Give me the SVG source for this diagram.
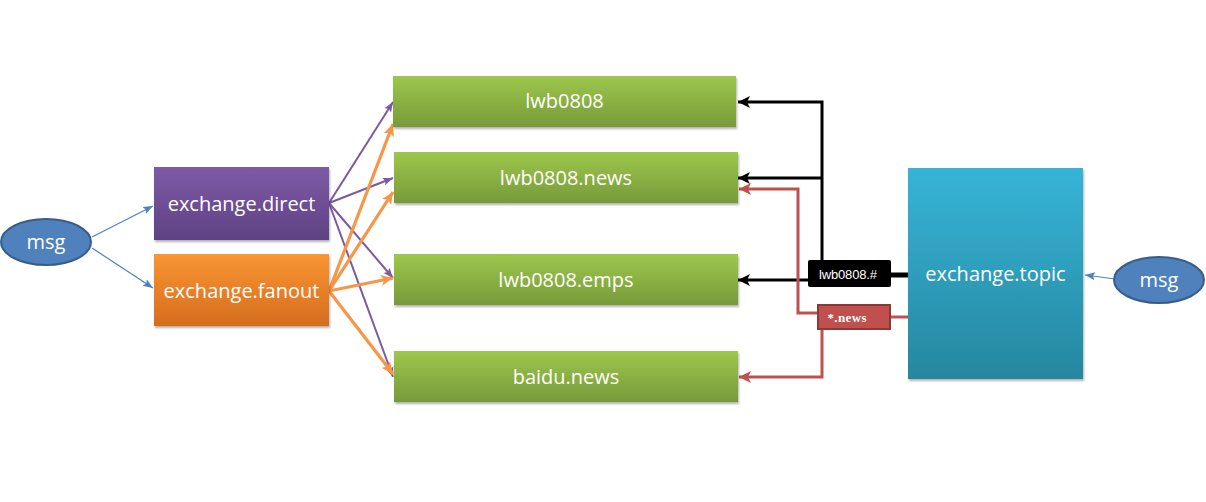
<svg xmlns="http://www.w3.org/2000/svg" width="1206" height="502" viewBox="0 0 1206 502">
<defs>
<linearGradient id="gGreen" x1="0" y1="0" x2="0" y2="1"><stop offset="0" stop-color="#9dc74c"/><stop offset="1" stop-color="#779a3a"/></linearGradient>
<linearGradient id="gPurple" x1="0" y1="0" x2="0" y2="1"><stop offset="0" stop-color="#7f5aa8"/><stop offset="1" stop-color="#5e4282"/></linearGradient>
<linearGradient id="gOrange" x1="0" y1="0" x2="0" y2="1"><stop offset="0" stop-color="#f99533"/><stop offset="1" stop-color="#d56d1e"/></linearGradient>
<linearGradient id="gBlue" x1="0" y1="0" x2="0" y2="1"><stop offset="0" stop-color="#36b4d7"/><stop offset="1" stop-color="#26879f"/></linearGradient>
<filter id="sh" x="-10%" y="-10%" width="120%" height="130%"><feDropShadow dx="1" dy="2" stdDeviation="1.2" flood-color="#000" flood-opacity="0.3"/></filter>
<marker id="aBlack" markerUnits="userSpaceOnUse" markerWidth="14" markerHeight="14" refX="12" refY="7" orient="auto"><path d="M0,1 L12,7 L0,13 L3,7 Z" fill="#000"/></marker>
<marker id="aRed" markerUnits="userSpaceOnUse" markerWidth="14" markerHeight="14" refX="12" refY="7" orient="auto"><path d="M0,1 L12,7 L0,13 L3,7 Z" fill="#c0504d"/></marker>
<marker id="aPurple" markerUnits="userSpaceOnUse" markerWidth="12" markerHeight="10" refX="10" refY="5" orient="auto"><path d="M0,1 L10,5 L0,9 L2,5 Z" fill="#7a5ba3"/></marker>
<marker id="aOrange" markerUnits="userSpaceOnUse" markerWidth="14" markerHeight="12" refX="12" refY="6" orient="auto"><path d="M0,0.5 L12,6 L0,11.5 L3,6 Z" fill="#f79646"/></marker>
<marker id="aBlueM" markerUnits="userSpaceOnUse" markerWidth="12" markerHeight="10" refX="10" refY="5" orient="auto"><path d="M0,1 L10,5 L0,9 L2,5 Z" fill="#4f81bd"/></marker>
</defs>
<style>
.t{font-family:"Open Sans","Liberation Sans",sans-serif;font-size:20px;fill:#fff;text-anchor:middle}
.msg{fill:#4f81bd;stroke:#385d8a;stroke-width:2}
.blk{fill:none;stroke:#000;stroke-width:3}
.red{fill:none;stroke:#c0504d;stroke-width:3}
.pur{fill:none;stroke:#7a5ba3;stroke-width:2}
.ora{fill:none;stroke:#f79646;stroke-width:3.2}
.blu{fill:none;stroke:#4f81bd;stroke-width:1.2}
</style>
<rect width="1206" height="502" fill="#fff"/>

<g id="connectors">
<line class="blu" x1="92" y1="237" x2="153" y2="206" marker-end="url(#aBlueM)"/>
<line class="blu" x1="92" y1="248" x2="153" y2="288" marker-end="url(#aBlueM)"/>
<line class="blu" x1="1115" y1="279" x2="1085" y2="275" marker-end="url(#aBlueM)"/>

<line class="pur" x1="329" y1="203" x2="393" y2="102" marker-end="url(#aPurple)"/>
<line class="pur" x1="329" y1="203" x2="393" y2="178" marker-end="url(#aPurple)"/>
<line class="pur" x1="329" y1="203" x2="393" y2="278" marker-end="url(#aPurple)"/>
<line class="pur" x1="329" y1="203" x2="393" y2="377" marker-end="url(#aPurple)"/>

<line class="ora" x1="329" y1="291" x2="393" y2="124" marker-end="url(#aOrange)"/>
<line class="ora" x1="329" y1="291" x2="393" y2="192" marker-end="url(#aOrange)"/>
<line class="ora" x1="329" y1="291" x2="393" y2="278" marker-end="url(#aOrange)"/>
<line class="ora" x1="329" y1="291" x2="393" y2="374" marker-end="url(#aOrange)"/>

<polyline class="blk" points="822,262 822,102 738,102" marker-end="url(#aBlack)"/>
<line class="blk" x1="822" y1="178" x2="738" y2="178" marker-end="url(#aBlack)"/>
<line class="blk" x1="808" y1="280" x2="738" y2="280" marker-end="url(#aBlack)"/>
<line x1="891" y1="275" x2="908" y2="275" stroke="#000" stroke-width="5"/>

<polyline class="red" points="817,313 798,313 798,189 739,189" marker-end="url(#aRed)"/>
<polyline class="red" points="822,330 822,377 739,377" marker-end="url(#aRed)"/>
<line class="red" x1="891" y1="317" x2="908" y2="317"/>

<g id="label-hash">
<rect x="808" y="260" width="83" height="27" rx="2" fill="#000"/>
<text x="848" y="279" font-family="Liberation Sans, sans-serif" font-size="13" fill="#fff" text-anchor="middle" textLength="58" lengthAdjust="spacing">lwb0808.#</text>
</g>
<g id="label-news">
<rect x="818" y="305" width="72" height="24" fill="#c0504d" stroke="#8c3836" stroke-width="2"/>
<text x="847" y="322" font-family="Liberation Serif, serif" font-size="13" font-weight="bold" fill="#fff" text-anchor="middle" textLength="39" lengthAdjust="spacing">*.news</text>
</g>
</g>

<g id="msg-left"><ellipse class="msg" cx="46" cy="242" rx="45" ry="23"/><text class="t" x="46" y="249">msg</text></g>
<g id="msg-right"><ellipse class="msg" cx="1159" cy="280" rx="45" ry="23"/><text class="t" x="1159" y="287">msg</text></g>

<g id="exchange-direct"><rect x="154" y="167" width="175" height="73" fill="url(#gPurple)" filter="url(#sh)"/><text class="t" x="241.5" y="211">exchange.direct</text></g>
<g id="exchange-fanout"><rect x="154" y="254" width="175" height="72" fill="url(#gOrange)" filter="url(#sh)"/><text class="t" x="241.5" y="298">exchange.fanout</text></g>
<g id="exchange-topic"><rect x="908" y="168" width="175" height="211" fill="url(#gBlue)" filter="url(#sh)"/><text class="t" x="995.5" y="281">exchange.topic</text></g>

<g id="q-lwb0808"><rect x="393" y="76" width="343" height="51" fill="url(#gGreen)" filter="url(#sh)"/><text class="t" x="564.5" y="108">lwb0808</text></g>
<g id="q-lwb0808-news"><rect x="394" y="152" width="344" height="51" fill="url(#gGreen)" filter="url(#sh)"/><text class="t" x="566" y="185">lwb0808.news</text></g>
<g id="q-lwb0808-emps"><rect x="394" y="254" width="344" height="51" fill="url(#gGreen)" filter="url(#sh)"/><text class="t" x="566" y="287">lwb0808.emps</text></g>
<g id="q-baidu-news"><rect x="394" y="351" width="344" height="51" fill="url(#gGreen)" filter="url(#sh)"/><text class="t" x="566" y="384">baidu.news</text></g>
</svg>
